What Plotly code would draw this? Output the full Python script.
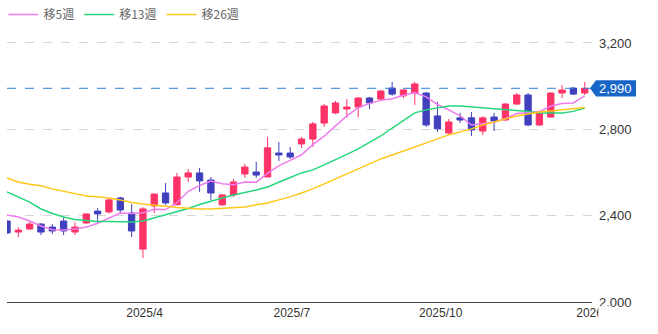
import plotly.graph_objects as go

# ---- data (weekly candles) ----
weeks = [
    "2025-01-06", "2025-01-13", "2025-01-20", "2025-01-27", "2025-02-03", "2025-02-10",
    "2025-02-17", "2025-02-24", "2025-03-03", "2025-03-10", "2025-03-17", "2025-03-24",
    "2025-03-31", "2025-04-07", "2025-04-14", "2025-04-21", "2025-04-28", "2025-05-05",
    "2025-05-12", "2025-05-19", "2025-05-26", "2025-06-02", "2025-06-09", "2025-06-16",
    "2025-06-23", "2025-06-30", "2025-07-07", "2025-07-14", "2025-07-21", "2025-07-28",
    "2025-08-04", "2025-08-11", "2025-08-18", "2025-08-25", "2025-09-01", "2025-09-08",
    "2025-09-15", "2025-09-22", "2025-09-29", "2025-10-06", "2025-10-13", "2025-10-20",
    "2025-10-27", "2025-11-03", "2025-11-10", "2025-11-17", "2025-11-24", "2025-12-01",
    "2025-12-08", "2025-12-15", "2025-12-22", "2025-12-29",
]
opens = [2375, 2324, 2338, 2361, 2347, 2375, 2324, 2366, 2421, 2417, 2482, 2412, 2245,
         2445, 2505, 2450, 2579, 2598, 2565, 2450, 2496, 2593, 2602, 2579, 2690, 2690,
         2732, 2755, 2829, 2876, 2894, 2903, 2945, 2940, 2991, 2955, 2968, 2968, 2862,
         2783, 2853, 2853, 2792, 2857, 2843, 2917, 2959, 2820, 2857, 2968, 2991, 2968]
highs = [2380, 2347, 2370, 2366, 2361, 2394, 2370, 2410, 2435, 2478, 2487, 2454, 2440,
         2503, 2551, 2598, 2616, 2621, 2579, 2500, 2570, 2640, 2649, 2765, 2741, 2718,
         2765, 2834, 2917, 2931, 2940, 2950, 2950, 2982, 3019, 2985, 3019, 2972, 2927,
         2848, 2876, 2880, 2860, 2876, 2922, 2968, 2968, 2880, 2970, 3005, 2996, 3019]
lows = [2315, 2301, 2335, 2310, 2315, 2310, 2310, 2362, 2366, 2410, 2412, 2301, 2204,
        2412, 2450, 2450, 2556, 2510, 2473, 2445, 2487, 2575, 2575, 2579, 2653, 2663,
        2713, 2718, 2811, 2870, 2853, 2857, 2894, 2935, 2955, 2945, 2913, 2811, 2788,
        2778, 2829, 2769, 2774, 2792, 2840, 2913, 2815, 2815, 2855, 2945, 2959, 2959]
closes = [2320, 2333, 2361, 2324, 2329, 2329, 2347, 2408, 2408, 2473, 2426, 2329, 2431,
          2500, 2459, 2579, 2598, 2561, 2505, 2496, 2556, 2625, 2588, 2714, 2681, 2672,
          2755, 2825, 2908, 2922, 2903, 2945, 2922, 2977, 2963, 2982, 3010, 2820, 2802,
          2834, 2843, 2797, 2853, 2839, 2917, 2959, 2820, 2876, 2968, 2982, 2963, 2990]

ma5 = [2403, 2394, 2375, 2352, 2335, 2333, 2338, 2347, 2365, 2390, 2412, 2410, 2413,
       2430, 2428, 2460, 2513, 2540, 2560, 2548, 2543, 2556, 2555, 2596, 2632, 2656,
       2682, 2729, 2768, 2816, 2862, 2900, 2920, 2934, 2942, 2958, 2970, 2950, 2915,
       2890, 2862, 2820, 2826, 2833, 2850, 2873, 2878, 2882, 2908, 2920, 2922, 2955]
ma13 = [2510, 2487, 2463, 2431, 2410, 2394, 2382, 2378, 2373, 2373, 2371, 2371, 2375,
        2389, 2403, 2417, 2433, 2452, 2468, 2482, 2496, 2507, 2519, 2533, 2556, 2577,
        2598, 2612, 2635, 2658, 2684, 2709, 2741, 2769, 2806, 2843, 2876, 2890, 2899,
        2908, 2908, 2904, 2899, 2894, 2890, 2887, 2883, 2876, 2876, 2876, 2883, 2899]
ma26 = [2575, 2556, 2545, 2538, 2524, 2512, 2500, 2491, 2487, 2482, 2473, 2461, 2454,
        2447, 2443, 2438, 2433, 2431, 2431, 2433, 2436, 2440, 2450, 2459, 2473, 2487,
        2505, 2524, 2547, 2570, 2593, 2616, 2640, 2663, 2681, 2700, 2718, 2737, 2755,
        2774, 2788, 2802, 2820, 2834, 2848, 2862, 2871, 2880, 2885, 2890, 2894, 2901]

x_tick_vals = ["2025-04-01", "2025-07-01", "2025-10-01", "2026-01-01"]
x_tick_text = ["2025/4", "2025/7", "2025/10", "2026"]
y_tick_vals = [2000, 2400, 2800, 3200]
y_tick_text = ["2,000", "2,400", "2,800", "3,200"]
ma_names = ["移5週", "移13週", "移26週"]

UP = "#ff3366"
DOWN = "#4040bf"
MA_COLORS = ["#ee7cee", "#25d77a", "#ffc61a"]
Y_RANGE = [2000, 3260]

fig = go.Figure()
fig.add_trace(go.Candlestick(
    x=weeks, open=opens, high=highs, low=lows, close=closes,
    increasing=dict(line=dict(color=UP, width=1), fillcolor=UP),
    decreasing=dict(line=dict(color=DOWN, width=1), fillcolor=DOWN),
    whiskerwidth=0, showlegend=False, hoverinfo="skip",
))
for name, vals, col in zip(ma_names, [ma5, ma13, ma26], MA_COLORS):
    fig.add_trace(go.Scatter(
        x=weeks, y=vals, mode="lines", name=name,
        line=dict(color=col, width=1.5), hoverinfo="skip",
    ))

last = closes[-1]
# last price dashed line
fig.add_shape(type="line", xref="paper", yref="y", x0=0, x1=1, y0=last, y1=last,
              line=dict(color="#2f7fd8", width=1, dash="dash"), layer="above")
# last price tag (paper coords, derived from the axis range)
yp = (last - Y_RANGE[0]) / (Y_RANGE[1] - Y_RANGE[0])
hh = 0.030
fig.add_shape(type="path", xref="paper", yref="paper",
              path=(f"M 0.9966 {yp} L 1.0068 {yp + hh} L 1.0752 {yp + hh} "
                    f"L 1.0752 {yp - hh} L 1.0068 {yp - hh} Z"),
              fillcolor="#1766c7", line=dict(width=0), layer="above")
fig.add_annotation(xref="paper", yref="paper", x=1.041, y=yp, text=f"{last:,}",
                   showarrow=False, xanchor="center", yanchor="middle",
                   font=dict(color="white", size=13, family="Liberation Sans, Arial"))
# mask clipping the last x label at the plot edge
fig.add_shape(type="rect", xref="paper", yref="paper", x0=1.011, x1=1.03,
              y0=-0.2, y1=-0.015, fillcolor="white", line=dict(width=0), layer="above")

fig.update_layout(
    width=658, height=334, autosize=False,
    margin=dict(l=7, r=66, t=30, b=32, autoexpand=False),
    paper_bgcolor="white", plot_bgcolor="white",
    font=dict(family="Liberation Sans, Arial", size=12, color="#333"),
    boxgap=0.2,
    legend=dict(orientation="h", xref="paper", yref="paper", x=-0.006, y=1.11,
                xanchor="left", yanchor="top", bgcolor="rgba(0,0,0,0)",
                font=dict(family="Noto Sans CJK JP", size=12, color="#666"),
                itemclick=False, itemdoubleclick=False),
    xaxis=dict(type="date", range=["2025-01-06", "2026-01-02 12:00"],
               rangeslider=dict(visible=False),
               tickvals=x_tick_vals, ticktext=x_tick_text, ticks="",
               showgrid=False, showline=True, linecolor="#444", linewidth=1,
               tickfont=dict(size=12, color="#333"), zeroline=False),
    yaxis=dict(side="right", range=Y_RANGE, tickvals=y_tick_vals,
               ticktext=y_tick_text, ticks="", showgrid=True, gridcolor="#d6d6d6",
               griddash="dash", gridwidth=1, zeroline=False, showline=False,
               ticklabelstandoff=6, tickfont=dict(size=13, color="#333")),
)

fig.write_html("out.html")
